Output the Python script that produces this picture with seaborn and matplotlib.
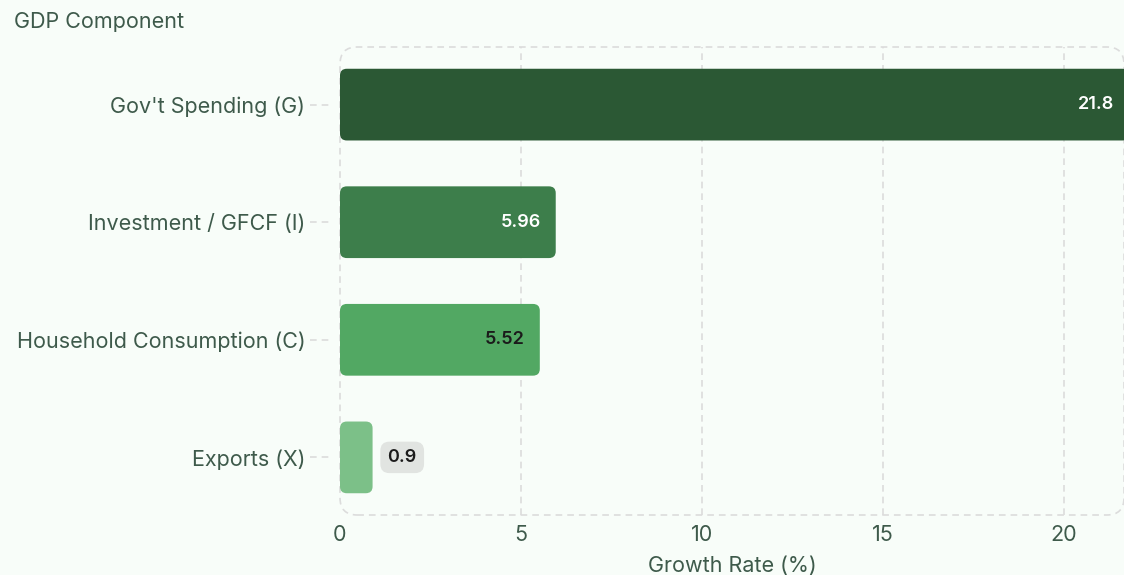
import matplotlib
matplotlib.use("Agg")
import matplotlib.pyplot as plt
import seaborn as sns
import pandas as pd
from matplotlib.patches import FancyBboxPatch
from matplotlib.transforms import offset_copy

categories = ["Gov't Spending (G)", "Investment / GFCF (I)", "Household Consumption (C)", "Exports (X)"]
values = [21.8, 5.96, 5.52, 0.9]
value_labels = ["21.8", "5.96", "5.52", "0.9"]
colors = ["#2b5834", "#3d7e4b", "#52a863", "#7cc088"]
xticks = [0, 5, 10, 15, 20]

BG = "#f8fdf9"
TXT = "#3e5a4b"
GRID = "#dcdcdc"

sns.set_theme(style="white")
plt.rcParams['font.family'] = ['Inter', 'DejaVu Sans']

df = pd.DataFrame({"component": categories, "value": values})

fig = plt.figure(figsize=(11.24, 5.75), dpi=100, facecolor=BG)
ax = fig.add_axes([340/1124, 1-515/575, (1124-340)/1124, (515-47)/575])
ax.set_facecolor(BG)

sns.barplot(data=df, x="value", y="component", hue="component", palette=colors,
            order=categories, legend=False, width=0.61, ax=ax, saturation=1)

ax.set_xlim(0, 21.66)
ax.set_ylim(3.49, -0.49)

# rounded bars
for p in list(ax.patches):
    x0, y0 = p.get_x(), p.get_y()
    w, h = p.get_width(), p.get_height()
    fc = p.get_facecolor()
    p.remove()
    fb = FancyBboxPatch((x0, y0), w, h, boxstyle="round,pad=0,rounding_size=0.19",
                        mutation_aspect=0.3, facecolor=fc, edgecolor="none", zorder=3)
    ax.add_patch(fb)

for sp in ax.spines.values():
    sp.set_visible(False)

# dashed rounded frame
frame = FancyBboxPatch((0, 0), 1, 1, boxstyle="round,pad=0,rounding_size=0.022",
                       mutation_aspect=784/468, transform=ax.transAxes,
                       facecolor="none", edgecolor=GRID, linestyle=(0, (4, 3)), linewidth=1.2,
                       zorder=1, clip_on=False)
ax.add_patch(frame)

# vertical grid
ax.set_xticks(xticks)
for xv in xticks[1:]:
    ax.axvline(xv, color=GRID, linestyle=(0, (4, 3)), linewidth=1.2, zorder=1)

ax.tick_params(axis="x", length=0, pad=7, labelsize=15.5, labelcolor=TXT)
ax.tick_params(axis="y", length=0, pad=25, labelsize=15.5, labelcolor=TXT)

# dashed y tick stubs
ytr = ax.get_yaxis_transform()
for i in range(len(categories)):
    ax.plot([-30/784, -8/784], [i, i], transform=ytr, color=GRID, linestyle=(0, (4, 3)),
            linewidth=1.2, clip_on=False)

ax.set_ylabel("")
ax.set_xlabel("Growth Rate (%)", fontsize=15.5, color=TXT, labelpad=8)
fig.text(14/1124, 1-22/575, "GDP Component", fontsize=15.5, color=TXT, va="center", ha="left")

# value labels
label_colors = ["white", "white", "#1b1b1b", "#1b1b1b"]
for i, (v, lab) in enumerate(zip(values, value_labels)):
    if v > 3:
        tr = offset_copy(ax.transData, fig=fig, x=-15, y=0, units="dots")
        ax.text(v, i, lab, transform=tr, ha="right", va="center", fontsize=13,
                fontweight="semibold", color=label_colors[i], zorder=5)
    else:
        tr = offset_copy(ax.transData, fig=fig, x=15, y=0, units="dots")
        ax.text(v, i, lab, transform=tr, ha="left", va="center", fontsize=13,
                fontweight="semibold", color=label_colors[i], zorder=5,
                bbox=dict(boxstyle="round,pad=0.4,rounding_size=0.5", facecolor="#e1e4e1", edgecolor="none"))

fig.savefig("out.png", dpi=100, facecolor=BG)
